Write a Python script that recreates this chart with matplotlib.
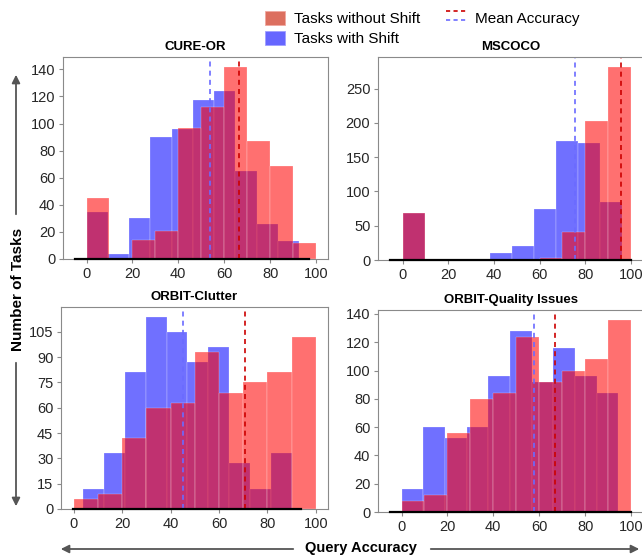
import numpy as np
import matplotlib
matplotlib.use("Agg")
import matplotlib.pyplot as plt
from matplotlib.patches import Patch, FancyArrowPatch
from matplotlib.lines import Line2D
from matplotlib.legend_handler import HandlerBase
from matplotlib.ticker import MultipleLocator

plt.rcParams['font.family'] = ['Liberation Sans', 'DejaVu Sans']

# Histogram counts per dataset (10 bins each), bin ranges and mean accuracies
titles = ["CURE-OR", "MSCOCO", "ORBIT-Clutter", "ORBIT-Quality Issues"]

shift_counts = [
    [35, 4, 30, 90, 96, 117, 124, 65, 26, 13],
    [68, 0, 0, 0, 10, 20, 74, 173, 171, 85],
    [12, 33, 81, 114, 105, 87, 96, 27, 12, 33],
    [16, 60, 52, 60, 96, 128, 92, 116, 96, 84],
]
shift_ranges = [(0, 92.7), (0, 96), (3.8, 90), (0, 94.5)]

noshift_counts = [
    [45, 0, 14, 21, 97, 112, 142, 87, 69, 12],
    [68, 0, 0, 0, 0, 0, 3, 41, 203, 282],
    [6, 9, 42, 60, 63, 93, 69, 75, 81, 102],
    [8, 12, 56, 80, 84, 124, 92, 100, 108, 136],
]
noshift_ranges = [(0, 100), (0, 100), (0, 100), (0, 100)]

shift_means = [53.7, 75.6, 45.3, 57.6]
noshift_means = [66.3, 95.7, 70.7, 66.7]

# zero line drawn under each histogram
baseline_spans = [(-5, 97), (-5.5, 100), (-0.3, 94), (-5, 100)]
y_steps = [20, 50, 15, 20]

BLUE_MEAN = '#6b6bff'
RED_MEAN = '#cc0000'


class HandlerStacked(HandlerBase):
    # two dashed lines stacked on top of each other in one legend entry
    def create_artists(self, legend, orig_handle, xdescent, ydescent,
                       width, height, fontsize, trans):
        artists = []
        for i, src in enumerate(orig_handle):
            y = height * (0.95 - 0.6 * i) - ydescent
            ln = Line2D([-xdescent, width - xdescent], [y, y],
                        color=src.get_color(), linewidth=src.get_linewidth())
            ln.set_dashes((2.5, 2))
            ln.set_transform(trans)
            artists.append(ln)
        return artists


def draw_hist(ax, counts, span, color):
    edges = np.linspace(span[0], span[1], len(counts) + 1)
    ax.bar(edges[:-1], counts, width=np.diff(edges), align='edge',
           color=color, alpha=0.56, edgecolor='white', linewidth=0.3)


fig = plt.figure(figsize=(6.42, 5.57), dpi=100)
W, H = 642, 557
# axes boxes in pixels: left, top, right, bottom
boxes = [(63, 57, 328, 259), (378, 57, 643, 260),
         (61, 307, 328, 509), (378, 310, 643, 512)]

for i, (l, t, r, b) in enumerate(boxes):
    ax = fig.add_axes([l / W, 1 - b / H, (r - l) / W, (b - t) / H])
    draw_hist(ax, shift_counts[i], shift_ranges[i], 'blue')
    draw_hist(ax, noshift_counts[i], noshift_ranges[i], 'red')
    ax.axvline(shift_means[i], color=BLUE_MEAN, ls=(0, (3, 2.5)), lw=1.2)
    ax.axvline(noshift_means[i], color=RED_MEAN, ls=(0, (3, 2.5)), lw=1.2)
    ax.plot(baseline_spans[i], [0, 0], color='black', lw=1.6,
            clip_on=False, zorder=3)
    ax.set_ylim(bottom=0)
    ax.set_xticks([0, 20, 40, 60, 80, 100])
    ax.yaxis.set_major_locator(MultipleLocator(y_steps[i]))
    ax.set_title(titles[i], fontsize=9.5, fontweight='bold', pad=5)
    for sp in ax.spines.values():
        sp.set_color('#8a8a8a')
        sp.set_linewidth(0.8)
    ax.tick_params(labelsize=10.5, colors='#8a8a8a', labelcolor='#262626',
                   length=3, width=0.8, pad=2.5)

# legend at the top
handles = [Patch(facecolor='#dc6f5f', edgecolor='#f0a8a0', lw=0.6),
           Patch(facecolor='#6666ff', edgecolor='#a0a0ff', lw=0.6),
           (Line2D([], [], color=RED_MEAN, lw=1.2),
            Line2D([], [], color=BLUE_MEAN, lw=1.2))]
labels = ['Tasks without Shift', 'Tasks with Shift', 'Mean Accuracy']
fig.legend(handles, labels, loc='upper left',
           bbox_to_anchor=(254 / W, 1 - 0 / H), ncol=2, frameon=False,
           fontsize=11, handlelength=1.35, handleheight=1.1,
           handletextpad=0.55, columnspacing=1.7, labelspacing=0.3,
           borderpad=0.2, handler_map={tuple: HandlerStacked()})

# shared axis labels with arrows
arrow_kw = dict(arrowstyle='-|>', color='#555555', lw=1.3, mutation_scale=12,
                transform=fig.transFigure)
fig.text(18 / W, 1 - 289 / H, 'Number of Tasks', rotation=90, fontsize=11,
         fontweight='bold', ha='center', va='center')
fig.add_artist(FancyArrowPatch((16 / W, 1 - 217 / H), (16 / W, 1 - 72 / H),
                               **arrow_kw))
fig.add_artist(FancyArrowPatch((16 / W, 1 - 360 / H), (16 / W, 1 - 509 / H),
                               **arrow_kw))

fig.text(361 / W, 1 - 548 / H, 'Query Accuracy', fontsize=10.5,
         fontweight='bold', ha='center', va='center')
fig.add_artist(FancyArrowPatch((296 / W, 1 - 549 / H), (58 / W, 1 - 549 / H),
                               **arrow_kw))
fig.add_artist(FancyArrowPatch((428 / W, 1 - 549 / H), (642 / W, 1 - 549 / H),
                               **arrow_kw))

fig.savefig('out.png', dpi=100)
